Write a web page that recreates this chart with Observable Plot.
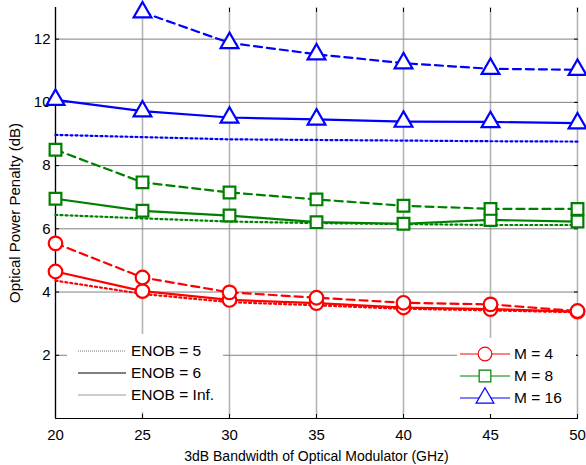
<!DOCTYPE html>
<html>
<head>
<meta charset="utf-8">
<script src="https://cdn.jsdelivr.net/npm/d3@7"></script>
<script src="https://cdn.jsdelivr.net/npm/@observablehq/plot@0.6"></script>
<style>
  html, body { margin: 0; padding: 0; background: #fff; overflow: hidden; }
  #chart svg { font-family: "Liberation Sans", Arial, sans-serif; }
</style>
</head>
<body>
<div id="chart"></div>
<script>
// ---- data ----
const bandwidth = [20, 25, 30, 35, 40, 45, 50];
const xTicks = [20, 25, 30, 35, 40, 45, 50];
const yTicks = [2, 4, 6, 8, 10, 12];

const m4_enob5 = [5.54, 4.46, 3.99, 3.82, 3.66, 3.61, 3.40];
const m4_enob6 = [4.65, 4.03, 3.75, 3.65, 3.51, 3.46, 3.38];
const m4_inf   = [4.36, 3.94, 3.68, 3.58, 3.47, 3.42, 3.36];
const m8_enob5 = [8.50, 7.47, 7.15, 6.93, 6.73, 6.63, 6.63];
const m8_enob6 = [6.95, 6.57, 6.42, 6.21, 6.16, 6.28, 6.23];
const m8_inf   = [6.44, 6.33, 6.23, 6.18, 6.15, 6.12, 6.12];
const m16_enob5 = [null, 12.85, 11.88, 11.52, 11.24, 11.06, 11.03];
const m16_enob6 = [10.08, 9.72, 9.52, 9.46, 9.39, 9.38, 9.34];
const m16_inf   = [8.97, 8.90, 8.83, 8.81, 8.79, 8.77, 8.76];

const orders = ["M = 4", "M = 8", "M = 16"];
const colors = ["#ff0000", "#008000", "#0000ff"];
const symbols = ["circle", "square", "triangle"];
const enobLabels = ["ENOB = 5", "ENOB = 6", "ENOB = Inf."];

const seriesDefs = [
  {m: "M = 4", enob: "ENOB = 5", vals: m4_enob5},
  {m: "M = 4", enob: "ENOB = 6", vals: m4_enob6},
  {m: "M = 4", enob: "ENOB = Inf.", vals: m4_inf},
  {m: "M = 8", enob: "ENOB = 5", vals: m8_enob5},
  {m: "M = 8", enob: "ENOB = 6", vals: m8_enob6},
  {m: "M = 8", enob: "ENOB = Inf.", vals: m8_inf},
  {m: "M = 16", enob: "ENOB = 5", vals: m16_enob5},
  {m: "M = 16", enob: "ENOB = 6", vals: m16_enob6},
  {m: "M = 16", enob: "ENOB = Inf.", vals: m16_inf}
];
const rows = seriesDefs.flatMap(s => bandwidth.map((b, i) => ({bw: b, v: s.vals[i], m: s.m, enob: s.enob})))
  .filter(d => d.v != null);

const colorOf = m => colors[orders.indexOf(m)];
const symOf = m => symbols[orders.indexOf(m)];
const dashOf = {"ENOB = 5": "8,5", "ENOB = 6": null, "ENOB = Inf.": "2,3"};

const lineMarks = enobLabels.flatMap(e => orders.map(m => Plot.line(rows.filter(d => d.enob === e && d.m === m), {
  x: "bw", y: "v", stroke: colorOf(m), strokeWidth: 2.2, strokeDasharray: dashOf[e]
})));
const dotMarks = ["ENOB = 6", "ENOB = 5"].flatMap(e => orders.map(m => Plot.dot(rows.filter(d => d.enob === e && d.m === m), {
  x: "bw", y: "v", stroke: colorOf(m), fill: "white", strokeWidth: 2.2, symbol: symOf(m), r: m === "M = 4" ? 6.8 : 6.6
})));

const W = 586, H = 465;
const plot = Plot.plot({
  width: W, height: H,
  marginLeft: 55, marginRight: 9, marginTop: 7, marginBottom: 47,
  style: {fontFamily: "'Liberation Sans', Arial, sans-serif", fontSize: "14px", color: "#000", background: "#fff"},
  x: {domain: [20, 50]},
  y: {domain: [0, 13]},
  marks: [
    Plot.ruleX(xTicks, {stroke: "#b4b4b4", strokeWidth: 1.6}),
    Plot.ruleY(yTicks, {stroke: "#808080", strokeWidth: 1}),
    Plot.axisX({ticks: xTicks, tickSize: -4, tickPadding: 15, label: "3dB Bandwidth of Optical Modulator (GHz)", labelAnchor: "center", labelOffset: 42, labelArrow: "none"}),
    Plot.axisX({anchor: "top", ticks: xTicks, tickSize: -4, tickFormat: () => "", label: null}),
    Plot.axisY({ticks: yTicks, tickSize: -4, tickPadding: 9, label: "Optical Power Penalty (dB)", labelAnchor: "center", labelOffset: 46, labelArrow: "none"}),
    Plot.axisY({anchor: "right", ticks: [0, ...yTicks], tickSize: -4, tickFormat: () => "", label: null}),
    Plot.ruleX([20], {stroke: "#000", strokeWidth: 1.2}),
    Plot.ruleY([0], {stroke: "#000", strokeWidth: 1.2}),
    ...lineMarks,
    ...dotMarks
  ]
});
document.getElementById("chart").appendChild(plot);

const svg = d3.select(plot);
svg.selectAll('g[aria-label="x-axis tick label"] text, g[aria-label="y-axis tick label"] text').style("font-size", "15px");
svg.selectAll('g[aria-label="x-axis label"] text').style("font-size", "14px");
svg.selectAll('g[aria-label="y-axis label"] text').style("font-size", "15px");

// ---- legends ----
const font = "'Liberation Sans', Arial, sans-serif";
// ENOB legend
const g1 = svg.append("g").attr("text-anchor", "start");
g1.append("rect").attr("x", 67).attr("y", 334).attr("width", 156).attr("height", 78).attr("fill", "#fff");
const enobStyles = [
  {stroke: "#777", width: 1, dash: "1,1"},
  {stroke: "#555", width: 1.6, dash: null},
  {stroke: "#999", width: 1, dash: null}
];
enobLabels.forEach((lab, i) => {
  const y = 351 + i * 22;
  g1.append("line").attr("x1", 78).attr("x2", 126).attr("y1", y).attr("y2", y)
    .attr("stroke", enobStyles[i].stroke).attr("stroke-width", enobStyles[i].width)
    .attr("stroke-dasharray", enobStyles[i].dash);
  g1.append("text").attr("x", 131).attr("y", y).attr("dy", "0.35em").attr("text-anchor", "start")
    .attr("font-family", font).attr("font-size", 15.5).attr("fill", "#000").text(lab);
});
// M legend
const g2 = svg.append("g").attr("text-anchor", "start");
g2.append("rect").attr("x", 457).attr("y", 338).attr("width", 119).attr("height", 76).attr("fill", "#fff");
orders.forEach((lab, i) => {
  const y = 354 + i * 22;
  g2.append("line").attr("x1", 460).attr("x2", 510).attr("y1", y).attr("y2", y)
    .attr("stroke", colors[i]).attr("stroke-width", 1);
  const sym = d3.symbol().type([d3.symbolCircle, d3.symbolSquare, d3.symbolTriangle][i]).size(Math.PI * (i === 0 ? 6.8 : 6.6) ** 2);
  g2.append("path").attr("d", sym()).attr("transform", `translate(485,${y})`)
    .attr("fill", "#fff").attr("stroke", colors[i]).attr("stroke-width", 1.2);
  g2.append("text").attr("x", 514).attr("y", y).attr("dy", "0.35em").attr("text-anchor", "start")
    .attr("font-family", font).attr("font-size", 15.5).attr("fill", "#000").text(lab);
});
</script>
</body>
</html>
